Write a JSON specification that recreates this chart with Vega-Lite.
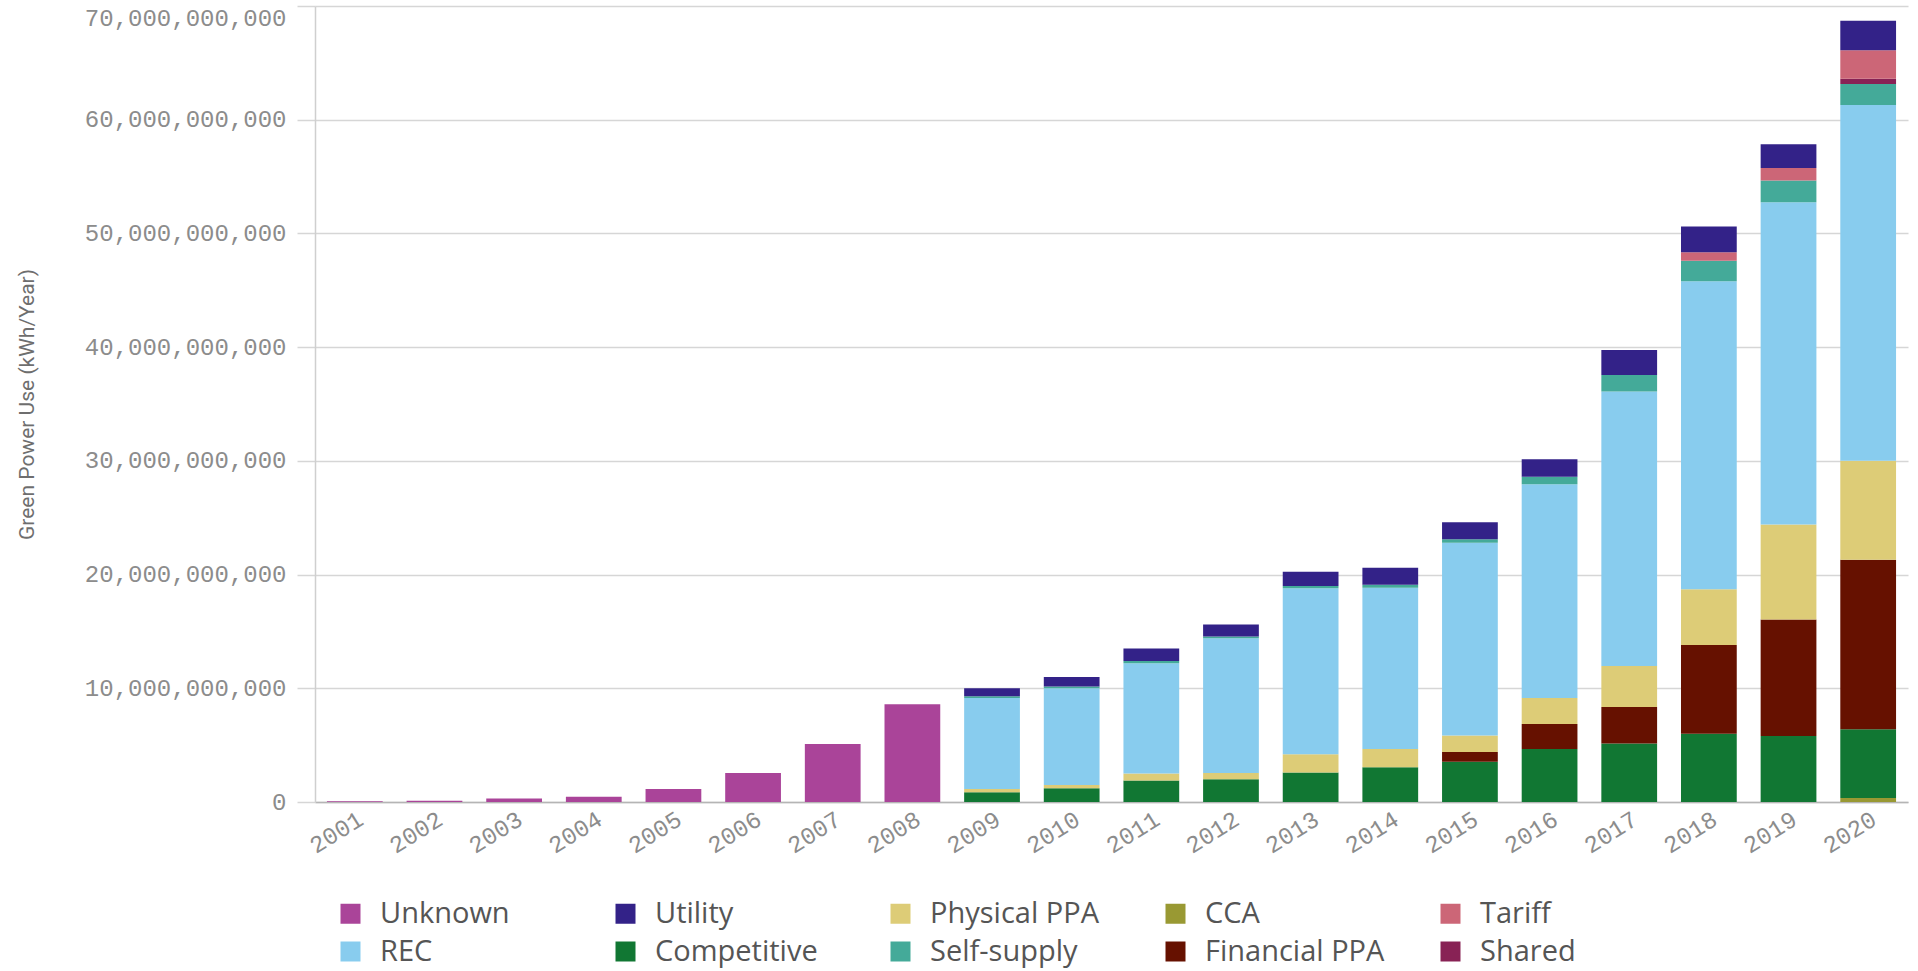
{
  "$schema": "https://vega.github.io/schema/vega-lite/v6.json",
  "width": 1593,
  "height": 796,
  "autosize": {"type": "none"},
  "padding": {"left": 315, "top": 6, "right": 10, "bottom": 169},
  "background": "white",
  "data": {
    "values": [
      {"year": "2001", "type": "Unknown", "kwh": 70000000},
      {"year": "2002", "type": "Unknown", "kwh": 120000000},
      {"year": "2003", "type": "Unknown", "kwh": 300000000},
      {"year": "2004", "type": "Unknown", "kwh": 470000000},
      {"year": "2005", "type": "Unknown", "kwh": 1150000000},
      {"year": "2006", "type": "Unknown", "kwh": 2550000000},
      {"year": "2007", "type": "Unknown", "kwh": 5100000000},
      {"year": "2008", "type": "Unknown", "kwh": 8600000000},
      {"year": "2009", "type": "Competitive", "kwh": 850000000},
      {"year": "2009", "type": "Physical PPA", "kwh": 300000000},
      {"year": "2009", "type": "REC", "kwh": 8000000000},
      {"year": "2009", "type": "Self-supply", "kwh": 150000000},
      {"year": "2009", "type": "Utility", "kwh": 700000000},
      {"year": "2010", "type": "Competitive", "kwh": 1200000000},
      {"year": "2010", "type": "Physical PPA", "kwh": 300000000},
      {"year": "2010", "type": "REC", "kwh": 8500000000},
      {"year": "2010", "type": "Self-supply", "kwh": 150000000},
      {"year": "2010", "type": "Utility", "kwh": 850000000},
      {"year": "2011", "type": "Competitive", "kwh": 1900000000},
      {"year": "2011", "type": "Physical PPA", "kwh": 600000000},
      {"year": "2011", "type": "REC", "kwh": 9700000000},
      {"year": "2011", "type": "Self-supply", "kwh": 200000000},
      {"year": "2011", "type": "Utility", "kwh": 1100000000},
      {"year": "2012", "type": "Competitive", "kwh": 2000000000},
      {"year": "2012", "type": "Physical PPA", "kwh": 550000000},
      {"year": "2012", "type": "REC", "kwh": 11850000000},
      {"year": "2012", "type": "Self-supply", "kwh": 150000000},
      {"year": "2012", "type": "Utility", "kwh": 1050000000},
      {"year": "2013", "type": "Competitive", "kwh": 2600000000},
      {"year": "2013", "type": "Physical PPA", "kwh": 1600000000},
      {"year": "2013", "type": "REC", "kwh": 14600000000},
      {"year": "2013", "type": "Self-supply", "kwh": 200000000},
      {"year": "2013", "type": "Utility", "kwh": 1250000000},
      {"year": "2014", "type": "Competitive", "kwh": 3050000000},
      {"year": "2014", "type": "Physical PPA", "kwh": 1600000000},
      {"year": "2014", "type": "REC", "kwh": 14200000000},
      {"year": "2014", "type": "Self-supply", "kwh": 250000000},
      {"year": "2014", "type": "Utility", "kwh": 1500000000},
      {"year": "2015", "type": "Competitive", "kwh": 3550000000},
      {"year": "2015", "type": "Financial PPA", "kwh": 850000000},
      {"year": "2015", "type": "Physical PPA", "kwh": 1450000000},
      {"year": "2015", "type": "REC", "kwh": 16950000000},
      {"year": "2015", "type": "Self-supply", "kwh": 300000000},
      {"year": "2015", "type": "Utility", "kwh": 1500000000},
      {"year": "2016", "type": "Competitive", "kwh": 4650000000},
      {"year": "2016", "type": "Financial PPA", "kwh": 2200000000},
      {"year": "2016", "type": "Physical PPA", "kwh": 2300000000},
      {"year": "2016", "type": "REC", "kwh": 18800000000},
      {"year": "2016", "type": "Self-supply", "kwh": 650000000},
      {"year": "2016", "type": "Utility", "kwh": 1550000000},
      {"year": "2017", "type": "Competitive", "kwh": 5150000000},
      {"year": "2017", "type": "Financial PPA", "kwh": 3200000000},
      {"year": "2017", "type": "Physical PPA", "kwh": 3600000000},
      {"year": "2017", "type": "REC", "kwh": 24150000000},
      {"year": "2017", "type": "Self-supply", "kwh": 1450000000},
      {"year": "2017", "type": "Utility", "kwh": 2200000000},
      {"year": "2018", "type": "Competitive", "kwh": 6000000000},
      {"year": "2018", "type": "Financial PPA", "kwh": 7800000000},
      {"year": "2018", "type": "Physical PPA", "kwh": 4900000000},
      {"year": "2018", "type": "REC", "kwh": 27100000000},
      {"year": "2018", "type": "Self-supply", "kwh": 1800000000},
      {"year": "2018", "type": "Tariff", "kwh": 750000000},
      {"year": "2018", "type": "Utility", "kwh": 2250000000},
      {"year": "2019", "type": "Competitive", "kwh": 5800000000},
      {"year": "2019", "type": "Financial PPA", "kwh": 10250000000},
      {"year": "2019", "type": "Physical PPA", "kwh": 8350000000},
      {"year": "2019", "type": "REC", "kwh": 28350000000},
      {"year": "2019", "type": "Self-supply", "kwh": 1900000000},
      {"year": "2019", "type": "Tariff", "kwh": 1100000000},
      {"year": "2019", "type": "Utility", "kwh": 2100000000},
      {"year": "2020", "type": "CCA", "kwh": 350000000},
      {"year": "2020", "type": "Competitive", "kwh": 6050000000},
      {"year": "2020", "type": "Financial PPA", "kwh": 14900000000},
      {"year": "2020", "type": "Physical PPA", "kwh": 8700000000},
      {"year": "2020", "type": "REC", "kwh": 31300000000},
      {"year": "2020", "type": "Self-supply", "kwh": 1850000000},
      {"year": "2020", "type": "Shared", "kwh": 450000000},
      {"year": "2020", "type": "Tariff", "kwh": 2500000000},
      {"year": "2020", "type": "Utility", "kwh": 2600000000}
    ]
  },
  "mark": {"type": "bar"},
  "encoding": {
    "x": {
      "field": "year",
      "type": "ordinal",
      "scale": {"paddingInner": 0.3, "paddingOuter": 0.15},
      "axis": {
        "title": null,
        "domain": true,
        "domainColor": "#b5b5b5",
        "domainWidth": 1.5,
        "ticks": false,
        "grid": false,
        "labelAngle": -32,
        "labelAlign": "right",
        "labelBaseline": "top",
        "labelPadding": 5,
        "labelFont": "Liberation Mono",
        "labelFontSize": 24,
        "labelColor": "#8c8c8c"
      }
    },
    "y": {
      "field": "kwh",
      "type": "quantitative",
      "stack": "zero",
      "scale": {"domain": [0, 70000000000], "nice": false},
      "axis": {
        "title": "Green Power Use (kWh/Year)",
        "titleFont": "Liberation Sans Narrow, Roboto",
        "titleFontSize": 21,
        "titleFontWeight": "normal",
        "titleColor": "#6e6e6e",
        "titleX": -288,
        "titleY": 398,
        "titleAngle": -90,
        "titleAlign": "center",
        "titleBaseline": "middle",
        "values": [0, 10000000000, 20000000000, 30000000000, 40000000000, 50000000000, 60000000000, 70000000000],
        "format": ",.0f",
        "domain": true,
        "domainColor": "#cfcfcf",
        "domainWidth": 1.5,
        "ticks": true,
        "tickSize": 18,
        "tickColor": "#d6d6d6",
        "tickWidth": 1.5,
        "grid": true,
        "gridColor": "#d6d6d6",
        "gridWidth": 1.5,
        "labelPadding": 11,
        "labelLimit": 400,
        "labelFont": "Liberation Mono",
        "labelFontSize": 24,
        "labelColor": "#8c8c8c",
        "labelBaseline": {"condition": {"test": "datum.value == 70000000000", "value": "top"}, "value": "middle"}
      }
    },
    "color": {
      "field": "type",
      "type": "nominal",
      "scale": {
        "domain": ["Unknown", "Utility", "Physical PPA", "CCA", "Tariff", "REC", "Competitive", "Self-supply", "Financial PPA", "Shared"],
        "range": ["#AA4499", "#332288", "#DDCC77", "#999933", "#CC6677", "#88CCEE", "#117733", "#44AA99", "#661100", "#882255"]
      },
      "legend": {
        "title": null,
        "orient": "none",
        "legendX": 21,
        "legendY": 893,
        "direction": "horizontal",
        "columns": 5,
        "gridAlign": "all",
        "columnPadding": 51,
        "rowPadding": 8,
        "symbolType": "square",
        "symbolSize": 400,
        "symbolStrokeWidth": 0,
        "symbolOpacity": 1,
        "labelOffset": 15,
        "labelFont": "Open Sans",
        "labelFontSize": 29,
        "labelColor": "#555555",
        "labelLimit": 400
      }
    },
    "order": {"field": "type", "sort": "ascending"}
  },
  "config": {"view": {"stroke": null}}
}
